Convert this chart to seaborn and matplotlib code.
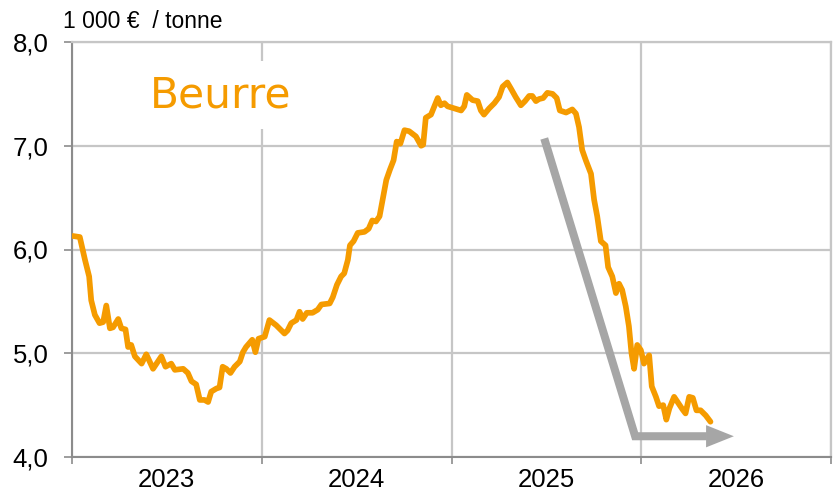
import matplotlib
matplotlib.use("Agg")
from matplotlib import pyplot as plt
import matplotlib.dates as mdates
from matplotlib.ticker import FixedLocator, FuncFormatter, NullFormatter
import seaborn as sns
import pandas as pd

# prix hebdomadaires du beurre (1 000 € / tonne)
dates = [
    "2023-01-03", "2023-01-16", "2023-01-26", "2023-02-03", "2023-02-07", "2023-02-14", "2023-02-23",
    "2023-03-02", "2023-03-08", "2023-03-15", "2023-03-21", "2023-03-31", "2023-04-06", "2023-04-14",
    "2023-04-19", "2023-04-25", "2023-05-02", "2023-05-15", "2023-05-24", "2023-06-06", "2023-06-22",
    "2023-06-30", "2023-07-11", "2023-07-18", "2023-08-03", "2023-08-12", "2023-08-19", "2023-08-28",
    "2023-09-04", "2023-09-13", "2023-09-20", "2023-09-26", "2023-10-06", "2023-10-12", "2023-10-18",
    "2023-10-25", "2023-11-02", "2023-11-10", "2023-11-20", "2023-11-26", "2023-12-02", "2023-12-09",
    "2023-12-14", "2023-12-20", "2023-12-26",
    "2024-01-07", "2024-01-16", "2024-01-29", "2024-02-14", "2024-02-20", "2024-02-27", "2024-03-08",
    "2024-03-14", "2024-03-20", "2024-03-28", "2024-04-08", "2024-04-18", "2024-04-25", "2024-05-11",
    "2024-05-17", "2024-05-25", "2024-06-02", "2024-06-08", "2024-06-15", "2024-06-19", "2024-06-26",
    "2024-07-04", "2024-07-17", "2024-07-25", "2024-08-01", "2024-08-08", "2024-08-15", "2024-08-21",
    "2024-08-28", "2024-09-04", "2024-09-11", "2024-09-17", "2024-09-24", "2024-10-02", "2024-10-11",
    "2024-10-24", "2024-11-03", "2024-11-07", "2024-11-12", "2024-11-22", "2024-12-05", "2024-12-11",
    "2024-12-18", "2024-12-24",
    "2025-01-06", "2025-01-19", "2025-01-25", "2025-01-30", "2025-02-10", "2025-02-20", "2025-02-26",
    "2025-03-04", "2025-03-14", "2025-03-24", "2025-04-02", "2025-04-09", "2025-04-18", "2025-04-25",
    "2025-05-04", "2025-05-14", "2025-05-22", "2025-05-30", "2025-06-05", "2025-06-12", "2025-06-18",
    "2025-06-26", "2025-07-04", "2025-07-14", "2025-07-22", "2025-07-28", "2025-08-09", "2025-08-21",
    "2025-08-28", "2025-09-03", "2025-09-09", "2025-09-16", "2025-09-26", "2025-10-02", "2025-10-08",
    "2025-10-15", "2025-10-24", "2025-10-29", "2025-11-06", "2025-11-13", "2025-11-19", "2025-11-25",
    "2025-12-02", "2025-12-08", "2025-12-13", "2025-12-18", "2025-12-24", "2025-12-31",
    "2026-01-06", "2026-01-16", "2026-01-21", "2026-01-29", "2026-02-04", "2026-02-12", "2026-02-18",
    "2026-02-24", "2026-03-05", "2026-03-13", "2026-03-21", "2026-03-27", "2026-04-03", "2026-04-10",
    "2026-04-17", "2026-04-25", "2026-05-05", "2026-05-14",
]
prix = [
    6.13, 6.12, 5.90, 5.74, 5.51, 5.37, 5.29, 5.30, 5.46, 5.24, 5.25, 5.33, 5.24, 5.23, 5.06,
    5.08, 4.97, 4.90, 4.99, 4.85, 4.97, 4.87, 4.90, 4.84, 4.85, 4.81, 4.73, 4.70, 4.55, 4.55,
    4.53, 4.63, 4.66, 4.67, 4.87, 4.85, 4.81, 4.87, 4.92, 5.01, 5.06, 5.10, 5.13, 5.01, 5.14,
    5.16, 5.32, 5.27, 5.19, 5.22, 5.29, 5.32, 5.40, 5.33, 5.39, 5.39, 5.42, 5.47, 5.48, 5.54,
    5.66, 5.74, 5.77, 5.90, 6.04, 6.08, 6.16, 6.17, 6.20, 6.28, 6.27, 6.32, 6.48, 6.67, 6.77,
    6.86, 7.04, 7.02, 7.15, 7.14, 7.09, 7.00, 7.01, 7.27, 7.30, 7.46, 7.39, 7.41, 7.38,
    7.36, 7.34, 7.38, 7.49, 7.44, 7.43, 7.34, 7.30, 7.36, 7.41, 7.47, 7.57, 7.61, 7.55, 7.47,
    7.39, 7.43, 7.48, 7.48, 7.43, 7.45, 7.46, 7.51, 7.50, 7.46, 7.34, 7.32, 7.35, 7.31, 7.18,
    6.96, 6.86, 6.73, 6.48, 6.32, 6.08, 6.04, 5.83, 5.74, 5.58, 5.67, 5.61, 5.45, 5.26, 5.00,
    4.85, 5.08, 5.03,
    4.90, 4.98, 4.68, 4.58, 4.49, 4.50, 4.36, 4.47, 4.58, 4.52, 4.46, 4.42, 4.58, 4.57, 4.45,
    4.45, 4.40, 4.34,
]

# flèche de tendance (début, coude, base de la pointe, pointe)
fleche_dates = ["2025-06-28", "2025-12-20", "2026-05-07", "2026-06-28"]
fleche_prix = [7.07, 4.20, 4.20, 4.20]

yticks = [4.0, 5.0, 6.0, 7.0, 8.0]
annees = [2023, 2024, 2025, 2026]

orange = "#F59B00"
gris_fleche = "#A6A6A6"
gris_grille = "#C6C6C6"
gris_axe = "#8C8C8C"

df = pd.DataFrame({"date": pd.to_datetime(dates), "prix": prix})

sns.set_style("white")
plt.rcParams["font.family"] = ["Liberation Sans", "DejaVu Sans"]

fig = plt.figure(figsize=(8.33, 4.93), dpi=100)
ax = fig.add_axes([72 / 833, 36 / 493, 759 / 833, 415 / 493])

sns.lineplot(data=df, x="date", y="prix", ax=ax, color=orange, linewidth=4.1,
             solid_joinstyle="round", solid_capstyle="round", zorder=5)

# flèche grise
fd = mdates.date2num(pd.to_datetime(fleche_dates))
ax.plot(fd[:3], fleche_prix[:3], color=gris_fleche, linewidth=5.8,
        solid_joinstyle="miter", solid_capstyle="butt", zorder=4)
ax.annotate("", xy=(fd[3], fleche_prix[3]), xytext=(fd[2], fleche_prix[2]),
            arrowprops=dict(arrowstyle="-|>,head_length=20,head_width=8",
                            mutation_scale=1, color=gris_fleche, lw=0,
                            shrinkA=0, shrinkB=0), zorder=4)

# axes
ax.set_xlim(pd.Timestamp("2023-01-01"), pd.Timestamp("2027-01-01"))
ax.set_ylim(4, 8)
ax.set_xlabel("")
ax.set_ylabel("")

ax.xaxis.set_major_locator(mdates.YearLocator())
ax.xaxis.set_major_formatter(NullFormatter())
ax.xaxis.set_minor_locator(FixedLocator(
    mdates.date2num([pd.Timestamp(f"{a}-07-02") for a in annees])))
ax.xaxis.set_minor_formatter(FuncFormatter(lambda v, p: mdates.num2date(v).strftime("%Y")))

ax.set_yticks(yticks)
ax.set_yticklabels([f"{v:.1f}".replace(".", ",") for v in yticks])

ax.tick_params(axis="x", which="major", direction="out", length=5, width=1.2, color=gris_axe)
ax.tick_params(axis="x", which="minor", length=0, pad=8, labelsize=18.5, labelcolor="black")
ax.tick_params(axis="y", direction="out", length=6, width=1.2, color=gris_axe,
               pad=11, labelsize=18.5, labelcolor="black")
ax.tick_params(left=True, bottom=True)

ax.grid(True, which="major", color=gris_grille, linewidth=1.6)
ax.set_axisbelow(True)

for s in ["left", "bottom"]:
    ax.spines[s].set_color(gris_axe)
    ax.spines[s].set_linewidth(1.5)
for s in ["top", "right"]:
    ax.spines[s].set_color(gris_grille)
    ax.spines[s].set_linewidth(1.6)

ax.text(0.196, 0.843, "Beurre", transform=ax.transAxes, ha="center", va="baseline",
        fontsize=30.5, color=orange, family="DejaVu Sans", zorder=6,
        bbox=dict(boxstyle="square,pad=0.3", facecolor="white", edgecolor="none"))

fig.text(63 / 833, 1 - 28 / 493, "1 000 €  / tonne", ha="left", va="baseline",
         fontsize=16.5, color="black")

fig.savefig("out.png", dpi=100)
